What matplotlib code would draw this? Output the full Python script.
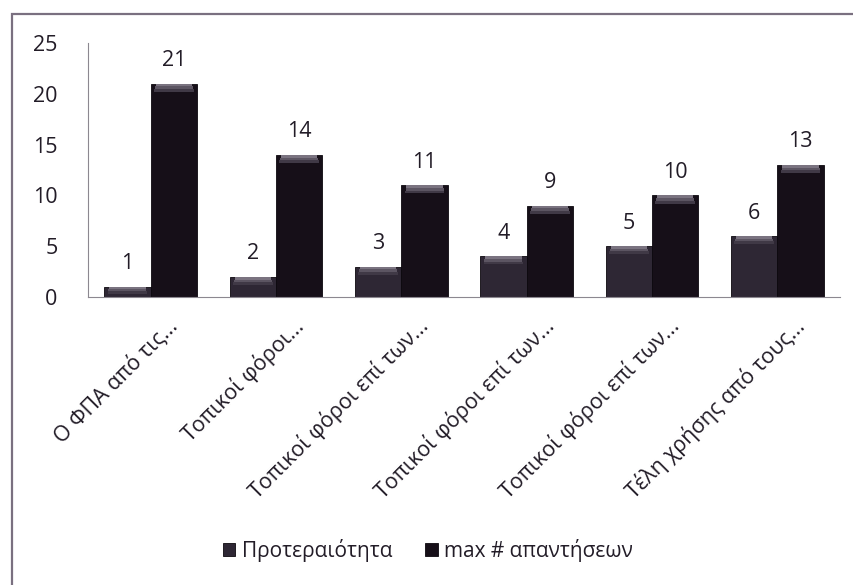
import matplotlib
matplotlib.use("Agg")
import matplotlib.pyplot as plt
import matplotlib.transforms as mtransforms
from matplotlib.patches import Rectangle
import numpy as np

categories = ["Ο ΦΠΑ από τις...", "Τοπικοί φόροι...", "Τοπικοί φόροι επί των...",
              "Τοπικοί φόροι επί των...", "Τοπικοί φόροι επί των...", "Τέλη χρήσης από τους..."]
priority = [1, 2, 3, 4, 5, 6]
max_answers = [21, 14, 11, 9, 10, 13]
series_names = ["Προτεραιότητα", "max # απαντήσεων"]
yticks = [0, 5, 10, 15, 20, 25]

plt.rcParams['font.family'] = ['Open Sans', 'DejaVu Sans']
text_color = "#221c27"

fig = plt.figure(figsize=(8.54, 5.85), dpi=100)
fig.patch.set_facecolor("white")

# outer chart border
fig.add_artist(Rectangle((12/854, -0.05), 1.0, 1 - 14/585 + 0.05, transform=fig.transFigure,
                         fill=False, edgecolor="#7a7080", linewidth=1.6))

ax = fig.add_axes([88/854, 1 - 297/585, 752/854, 254/585])
x = np.arange(len(categories))
w = 0.37
c1 = "#2e2734"
c2 = "#160f18"
b1 = ax.bar(x - w/2, priority, w, color=c1, edgecolor="#0c080e", linewidth=0.6, label=series_names[0], zorder=2)
b2 = ax.bar(x + w/2, max_answers, w, color=c2, edgecolor="#0c080e", linewidth=0.6, label=series_names[1], zorder=2)

# bevel highlight on top of each bar (gradient bands)
bev = 0.8
bands = [("#7a7380", 0.78, 1.00), ("#5c5562", 0.82, 0.65), ("#403946", 0.86, 0.35)]
for xs, vals in ((x - w/2, priority), (x + w/2, max_answers)):
    v = np.array(vals, dtype=float)
    h = np.minimum(bev, v * 0.7)
    for col, wf, hf in bands:
        ax.bar(xs, h * hf, w * wf, bottom=v - h, color=col, linewidth=0, zorder=3)

# data labels
for xs, vals in ((x - w/2, priority), (x + w/2, max_answers)):
    for xi, v in zip(xs, vals):
        ax.annotate(str(v), (xi, v), xytext=(0, 9), textcoords="offset points",
                    ha="center", va="bottom", fontsize=15.5, color=text_color)

ax.set_xlim(-0.5, len(categories) - 0.5)
ax.set_ylim(0, 25)
ax.set_yticks(yticks)
ax.set_yticklabels([str(t) for t in yticks], fontsize=15.5, color=text_color)
ax.tick_params(axis="y", length=0, pad=22)
ax.set_xticks(x)
ax.set_xticklabels(categories, rotation=45, ha="right", rotation_mode="anchor",
                   fontsize=15.5, color=text_color)
ax.tick_params(axis="x", length=0, pad=13)
offset = mtransforms.ScaledTranslation(16/100, 0, fig.dpi_scale_trans)
for lbl in ax.get_xticklabels():
    lbl.set_transform(lbl.get_transform() + offset)

for s in ("top", "right"):
    ax.spines[s].set_visible(False)
ax.spines["left"].set_color("#8c8890")
ax.spines["bottom"].set_color("#8c8890")
ax.set_facecolor("none")

leg = fig.legend(handles=[b1, b2], labels=series_names, loc="center",
                 bbox_to_anchor=(428/854, 1 - 550/585), ncol=2, frameon=False,
                 fontsize=15, handlelength=0.6, handleheight=0.6, handletextpad=0.3,
                 columnspacing=1.6, labelcolor=text_color)

fig.savefig("out.png", dpi=100, facecolor="white")
